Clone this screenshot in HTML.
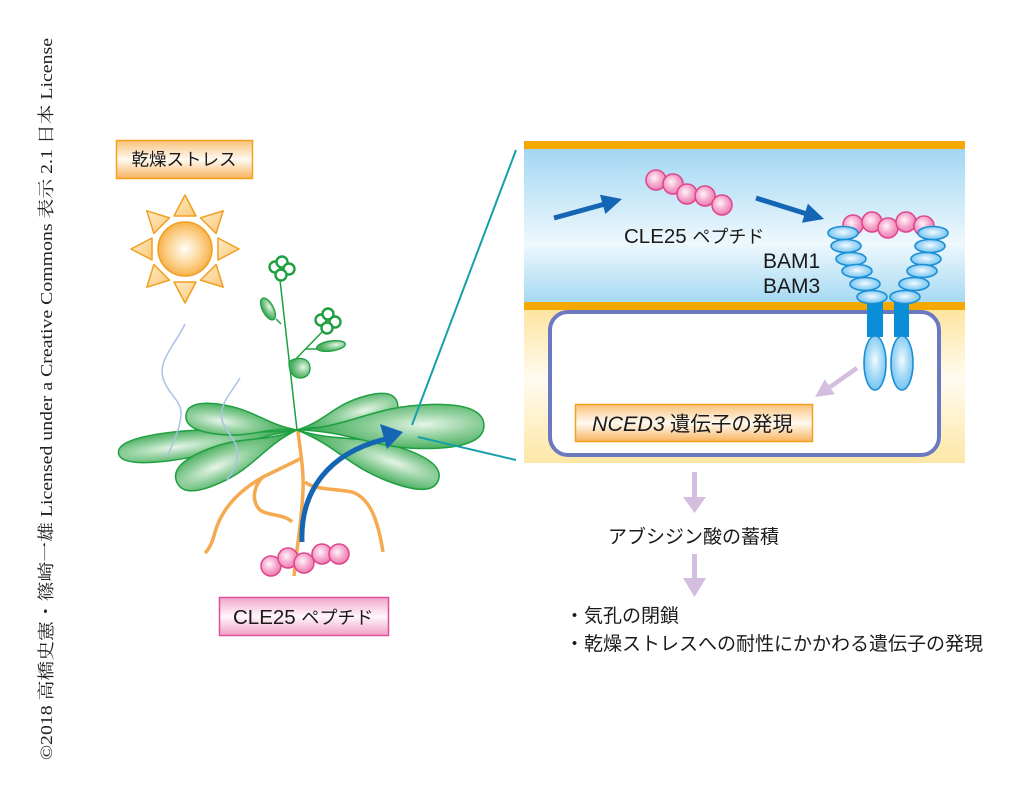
<!DOCTYPE html>
<html><head><meta charset="utf-8">
<style>
html,body{margin:0;padding:0;background:#fff;}
svg{display:block;}
text{font-family:"Liberation Sans","Noto Sans CJK JP",sans-serif;fill:#1a1a1a;}
.cjk{font-family:"Noto Sans CJK JP","Liberation Sans",sans-serif;}
</style></head>
<body>
<svg width="1023" height="792" viewBox="0 0 1023 792" xmlns="http://www.w3.org/2000/svg">
<defs>
  <radialGradient id="leafG" cx="0.68" cy="0.45" r="0.55">
    <stop offset="0" stop-color="#e6f5e8"/>
    <stop offset="0.5" stop-color="#92d09e"/>
    <stop offset="1" stop-color="#4cb062"/>
  </radialGradient>
  <radialGradient id="sunG" cx="0.5" cy="0.5" r="0.55">
    <stop offset="0" stop-color="#fffdf8"/>
    <stop offset="0.6" stop-color="#fcd08a"/>
    <stop offset="1" stop-color="#f6a83a"/>
  </radialGradient>
  <linearGradient id="rayG" x1="0" y1="0" x2="1" y2="1">
    <stop offset="0" stop-color="#fdebc8"/>
    <stop offset="1" stop-color="#fbc878"/>
  </linearGradient>
  <radialGradient id="pepG" cx="0.42" cy="0.4" r="0.6">
    <stop offset="0" stop-color="#fff4fa"/>
    <stop offset="0.6" stop-color="#f5a6cb"/>
    <stop offset="1" stop-color="#ec7fb2"/>
  </radialGradient>
  <radialGradient id="recG" cx="0.5" cy="0.45" r="0.6">
    <stop offset="0" stop-color="#f4fbff"/>
    <stop offset="0.5" stop-color="#a9dbf7"/>
    <stop offset="1" stop-color="#6cc0ef"/>
  </radialGradient>
  <linearGradient id="orangeLbl" x1="0" y1="0" x2="0" y2="1">
    <stop offset="0" stop-color="#f9c27a"/>
    <stop offset="0.5" stop-color="#fffaf2"/>
    <stop offset="1" stop-color="#f8b45e"/>
  </linearGradient>
  <linearGradient id="pinkLbl" x1="0" y1="0" x2="0" y2="1">
    <stop offset="0" stop-color="#f2a6cb"/>
    <stop offset="0.5" stop-color="#fff6fa"/>
    <stop offset="1" stop-color="#f0a0c6"/>
  </linearGradient>
  <linearGradient id="blueBand" x1="0" y1="0" x2="0" y2="1">
    <stop offset="0" stop-color="#a2d7f2"/>
    <stop offset="0.62" stop-color="#eef8fd"/>
    <stop offset="1" stop-color="#a6d9f2"/>
  </linearGradient>
  <linearGradient id="yelBand" x1="0" y1="0" x2="0" y2="1">
    <stop offset="0" stop-color="#fde5a0"/>
    <stop offset="0.45" stop-color="#fffbf0"/>
    <stop offset="1" stop-color="#fde7a6"/>
  </linearGradient>
</defs>

<!-- copyright vertical -->
<text transform="translate(52,760) rotate(-90)" textLength="722" lengthAdjust="spacingAndGlyphs" style="font-family:'Liberation Serif','Noto Serif CJK SC',serif;font-size:17px;fill:#222;">©2018 高橋史憲・篠崎一雄 Licensed under a Creative Commons 表示 2.1 日本 License</text>

<!-- drought label -->
<rect x="116.5" y="140.5" width="136" height="38" fill="url(#orangeLbl)" stroke="#f5a11e" stroke-width="1.5"/>
<text x="184" y="165.5" text-anchor="middle" class="cjk" style="font-size:17.5px;">乾燥ストレス</text>

<!-- sun -->
<g fill="url(#rayG)" stroke="#f0a020" stroke-width="1.5" stroke-linejoin="round">
  <polygon points="185,195 174,216 196,216"/>
  <polygon points="185,303 174,282 196,282"/>
  <polygon points="239,249 218,238 218,260"/>
  <polygon points="131,249 152,238 152,260"/>
  <polygon points="223.2,210.8 216.1,233.5 200.5,217.9"/>
  <polygon points="146.8,210.8 169.5,217.9 153.9,233.5"/>
  <polygon points="223.2,287.2 200.5,280.1 216.1,264.5"/>
  <polygon points="146.8,287.2 169.5,280.1 153.9,264.5"/>
</g>
<circle cx="185" cy="249" r="27" fill="url(#sunG)" stroke="#f0a020" stroke-width="1.5"/>

<!-- roots -->
<g fill="none" stroke="#f6aa50" stroke-width="3.5">
  <path d="M298,431 C300,450 304,470 303,490 C302,520 297,545 294,576"/>
  <path d="M302,458 L263,477 C255,484 250,500 260,510 C268,516 285,514 292,522"/>
  <path d="M263,477 C240,490 222,508 215,532 C212,545 208,550 205,553"/>
  <path d="M305,482 C315,490 330,488 352,492 C370,498 378,520 383,552"/>
</g>

<!-- stem and inflorescence -->
<g stroke="#1ea040" fill="none" stroke-width="1.5">
  <path d="M297,430 L280,280"/>
  <path d="M289,366 L324,330"/>
  <path d="M276,319 L281,324"/>
  <path d="M306,349 L318,349"/>
</g>
<g stroke="#1ea040" stroke-width="1.3" fill="url(#leafG)">
  <ellipse cx="268" cy="309" rx="5.5" ry="12" transform="rotate(-28 268 309)"/>
  <ellipse cx="331" cy="346" rx="14.5" ry="5" transform="rotate(-8 331 346)"/>
  <path d="M289,362 C296,356 310,357 310,368 C310,378 300,380 294,376 C290,372 289,368 289,362Z"/>
</g>
<g stroke="#1ea040" stroke-width="2.4" fill="#fff">
  <circle cx="275" cy="267" r="5.5"/>
  <circle cx="282" cy="262" r="5.5"/>
  <circle cx="289" cy="269" r="5.5"/>
  <circle cx="281" cy="275" r="5.5"/>
  <circle cx="321" cy="320" r="5.5"/>
  <circle cx="328" cy="314" r="5.5"/>
  <circle cx="335" cy="322" r="5.5"/>
  <circle cx="327" cy="328" r="5.5"/>
</g>

<!-- rosette leaves -->
<g fill="url(#leafG)" stroke="#1ea040" stroke-width="1.5">
  <path transform="translate(297,430) rotate(172.6)" d="M0,0 C54,-1.4 72,-14 129.6,-14 C165.6,-14 180,-8.4 180,0 C180,8.4 165.6,14 129.6,14 C72,14 54,1.4 0,0Z"/>
  <path transform="translate(297,430) rotate(187.8)" d="M0,0 C33.6,-1.5 44.8,-15 80.6,-15 C103,-15 112,-9 112,0 C112,9 103,15 80.6,15 C44.8,15 33.6,1.5 0,0Z"/>
  <path transform="translate(297,430) rotate(156.6)" d="M0,0 C39.3,-1.8 52.4,-18 94.3,-18 C120.5,-18 131,-10.8 131,0 C131,10.8 120.5,18 94.3,18 C52.4,18 39.3,1.8 0,0Z"/>
  <path transform="translate(297,430) rotate(19.5)" d="M0,0 C45,-1.8 60,-18 108,-18 C138,-18 150,-10.8 150,0 C150,10.8 138,18 108,18 C60,18 45,1.8 0,0Z"/>
  <path transform="translate(297,430) rotate(-15.1)" d="M0,0 C31.2,-1.5 41.6,-15 74.9,-15 C95.7,-15 104,-9 104,0 C104,9 95.7,15 74.9,15 C41.6,15 31.2,1.5 0,0Z"/>
  <path transform="translate(297,430) rotate(-1.5)" d="M0,0 C56.1,-2.2 74.8,-22 134.6,-22 C172,-22 187,-13.2 187,0 C187,13.2 172,22 134.6,22 C74.8,22 56.1,2.2 0,0Z"/>
</g>

<!-- heat lines -->
<g fill="none" stroke="#a9c2e8" stroke-width="1.5">
  <path d="M185,324 C175,345 158,360 163,378 C168,395 182,400 181,415 C180,430 172,445 167,457"/>
  <path d="M240,378 C232,392 218,405 222,420 C226,435 240,440 237,458 C235,470 230,475 227,480"/>
</g>

<!-- bottom peptide -->
<g fill="url(#pepG)" stroke="#e0448c" stroke-width="1.5">
  <circle cx="271" cy="566" r="10"/>
  <circle cx="288" cy="558" r="10"/>
  <circle cx="304" cy="563" r="10"/>
  <circle cx="322" cy="554" r="10"/>
  <circle cx="339" cy="554" r="10"/>
</g>

<!-- blue curved arrow -->
<path d="M302,542 C300,490 330,452 386,439" fill="none" stroke="#1565b5" stroke-width="5"/>
<polygon points="403,432 380,424 387,449" fill="#1565b5"/>

<!-- teal zoom lines -->
<g stroke="#16a0a8" stroke-width="2">
  <line x1="412" y1="425" x2="516" y2="150"/>
  <line x1="418" y1="437" x2="516" y2="460"/>
</g>

<!-- bottom pink label -->
<rect x="219.5" y="597.5" width="169" height="38" fill="url(#pinkLbl)" stroke="#e0509a" stroke-width="1.5"/>
<text x="233" y="624" style="font-size:20.5px;">CLE25 <tspan class="cjk" style="font-size:18px;">ペプチド</tspan></text>

<!-- right panel -->
<rect x="524" y="149" width="441" height="153" fill="url(#blueBand)"/>
<rect x="524" y="310" width="441" height="153" fill="url(#yelBand)"/>
<rect x="524" y="141" width="441" height="8" fill="#f5a800"/>
<rect x="524" y="302" width="441" height="8" fill="#f5a800"/>
<rect x="550" y="312" width="389" height="143" rx="18" ry="18" fill="#fff" stroke="#6b79c0" stroke-width="4"/>

<!-- peptide in apoplast -->
<g fill="url(#pepG)" stroke="#e0448c" stroke-width="1.5">
  <circle cx="656" cy="180" r="10"/>
  <circle cx="673" cy="184" r="10"/>
  <circle cx="687" cy="194" r="10"/>
  <circle cx="705" cy="196" r="10"/>
  <circle cx="722" cy="205" r="10"/>
</g>
<!-- blue arrows -->
<line x1="554" y1="218" x2="605" y2="204" stroke="#1565b5" stroke-width="5"/>
<polygon points="622,199 605.4,214 600,194.8" fill="#1565b5"/>
<line x1="756" y1="198" x2="807" y2="214" stroke="#1565b5" stroke-width="5"/>
<polygon points="824,219 802,222.7 807.9,203.6" fill="#1565b5"/>

<text x="624" y="243" style="font-size:20.5px;">CLE25 <tspan class="cjk" style="font-size:18px;">ペプチド</tspan></text>
<text x="763" y="268" style="font-size:21px;">BAM1</text>
<text x="763" y="293" style="font-size:21px;">BAM3</text>

<!-- receptor -->
<g fill="url(#pepG)" stroke="#e0448c" stroke-width="1.5">
  <circle cx="853" cy="225" r="10"/>
  <circle cx="872" cy="222" r="10"/>
  <circle cx="888" cy="228" r="10"/>
  <circle cx="906" cy="222" r="10"/>
  <circle cx="924" cy="226" r="10"/>
</g>
<rect x="867" y="300" width="16" height="37" fill="#0a8ed8"/>
<rect x="894" y="300" width="15" height="37" fill="#0a8ed8"/>
<g fill="url(#recG)" stroke="#1a8fd6" stroke-width="1.6">
  <ellipse cx="843" cy="233" rx="15" ry="6.5"/>
  <ellipse cx="846" cy="246" rx="15" ry="6.5"/>
  <ellipse cx="851" cy="259" rx="15" ry="6.5"/>
  <ellipse cx="857" cy="271" rx="15" ry="6.5"/>
  <ellipse cx="865" cy="284" rx="15" ry="6.5"/>
  <ellipse cx="872" cy="297" rx="15" ry="6.5"/>
  <ellipse cx="933" cy="233" rx="15" ry="6.5"/>
  <ellipse cx="930" cy="246" rx="15" ry="6.5"/>
  <ellipse cx="926" cy="259" rx="15" ry="6.5"/>
  <ellipse cx="922" cy="271" rx="15" ry="6.5"/>
  <ellipse cx="914" cy="284" rx="15" ry="6.5"/>
  <ellipse cx="905" cy="297" rx="15" ry="6.5"/>
  <ellipse cx="875" cy="363" rx="11" ry="27"/>
  <ellipse cx="902" cy="363" rx="11" ry="27"/>
</g>

<!-- lavender arrow inside cell -->
<line x1="857" y1="368" x2="830" y2="387" stroke="#d4bedf" stroke-width="4.5"/>
<polygon points="815,397 834.9,394.2 824.7,379.4" fill="#d4bedf"/>

<!-- NCED3 label -->
<rect x="575.5" y="404.5" width="237" height="37" fill="url(#orangeLbl)" stroke="#f5a11e" stroke-width="1.5"/>
<text x="592" y="431" style="font-size:21.5px;"><tspan style="font-style:italic;">NCED3</tspan><tspan dx="5" class="cjk" style="font-size:20.5px;">遺伝子の発現</tspan></text>

<!-- downward arrows -->
<rect x="692" y="472" width="5" height="27" fill="#d4bedf"/>
<polygon points="683,497 706,497 694.5,513" fill="#d4bedf"/>
<rect x="692" y="554" width="5" height="26" fill="#d4bedf"/>
<polygon points="683,578 706,578 694.5,597" fill="#d4bedf"/>

<text x="608" y="543" class="cjk" style="font-size:19px;">アブシジン酸の蓄積</text>
<text x="565" y="622" class="cjk" style="font-size:19px;">・気孔の閉鎖</text>
<text x="565" y="650" class="cjk" style="font-size:19px;">・乾燥ストレスへの耐性にかかわる遺伝子の発現</text>
</svg>
</body></html>
